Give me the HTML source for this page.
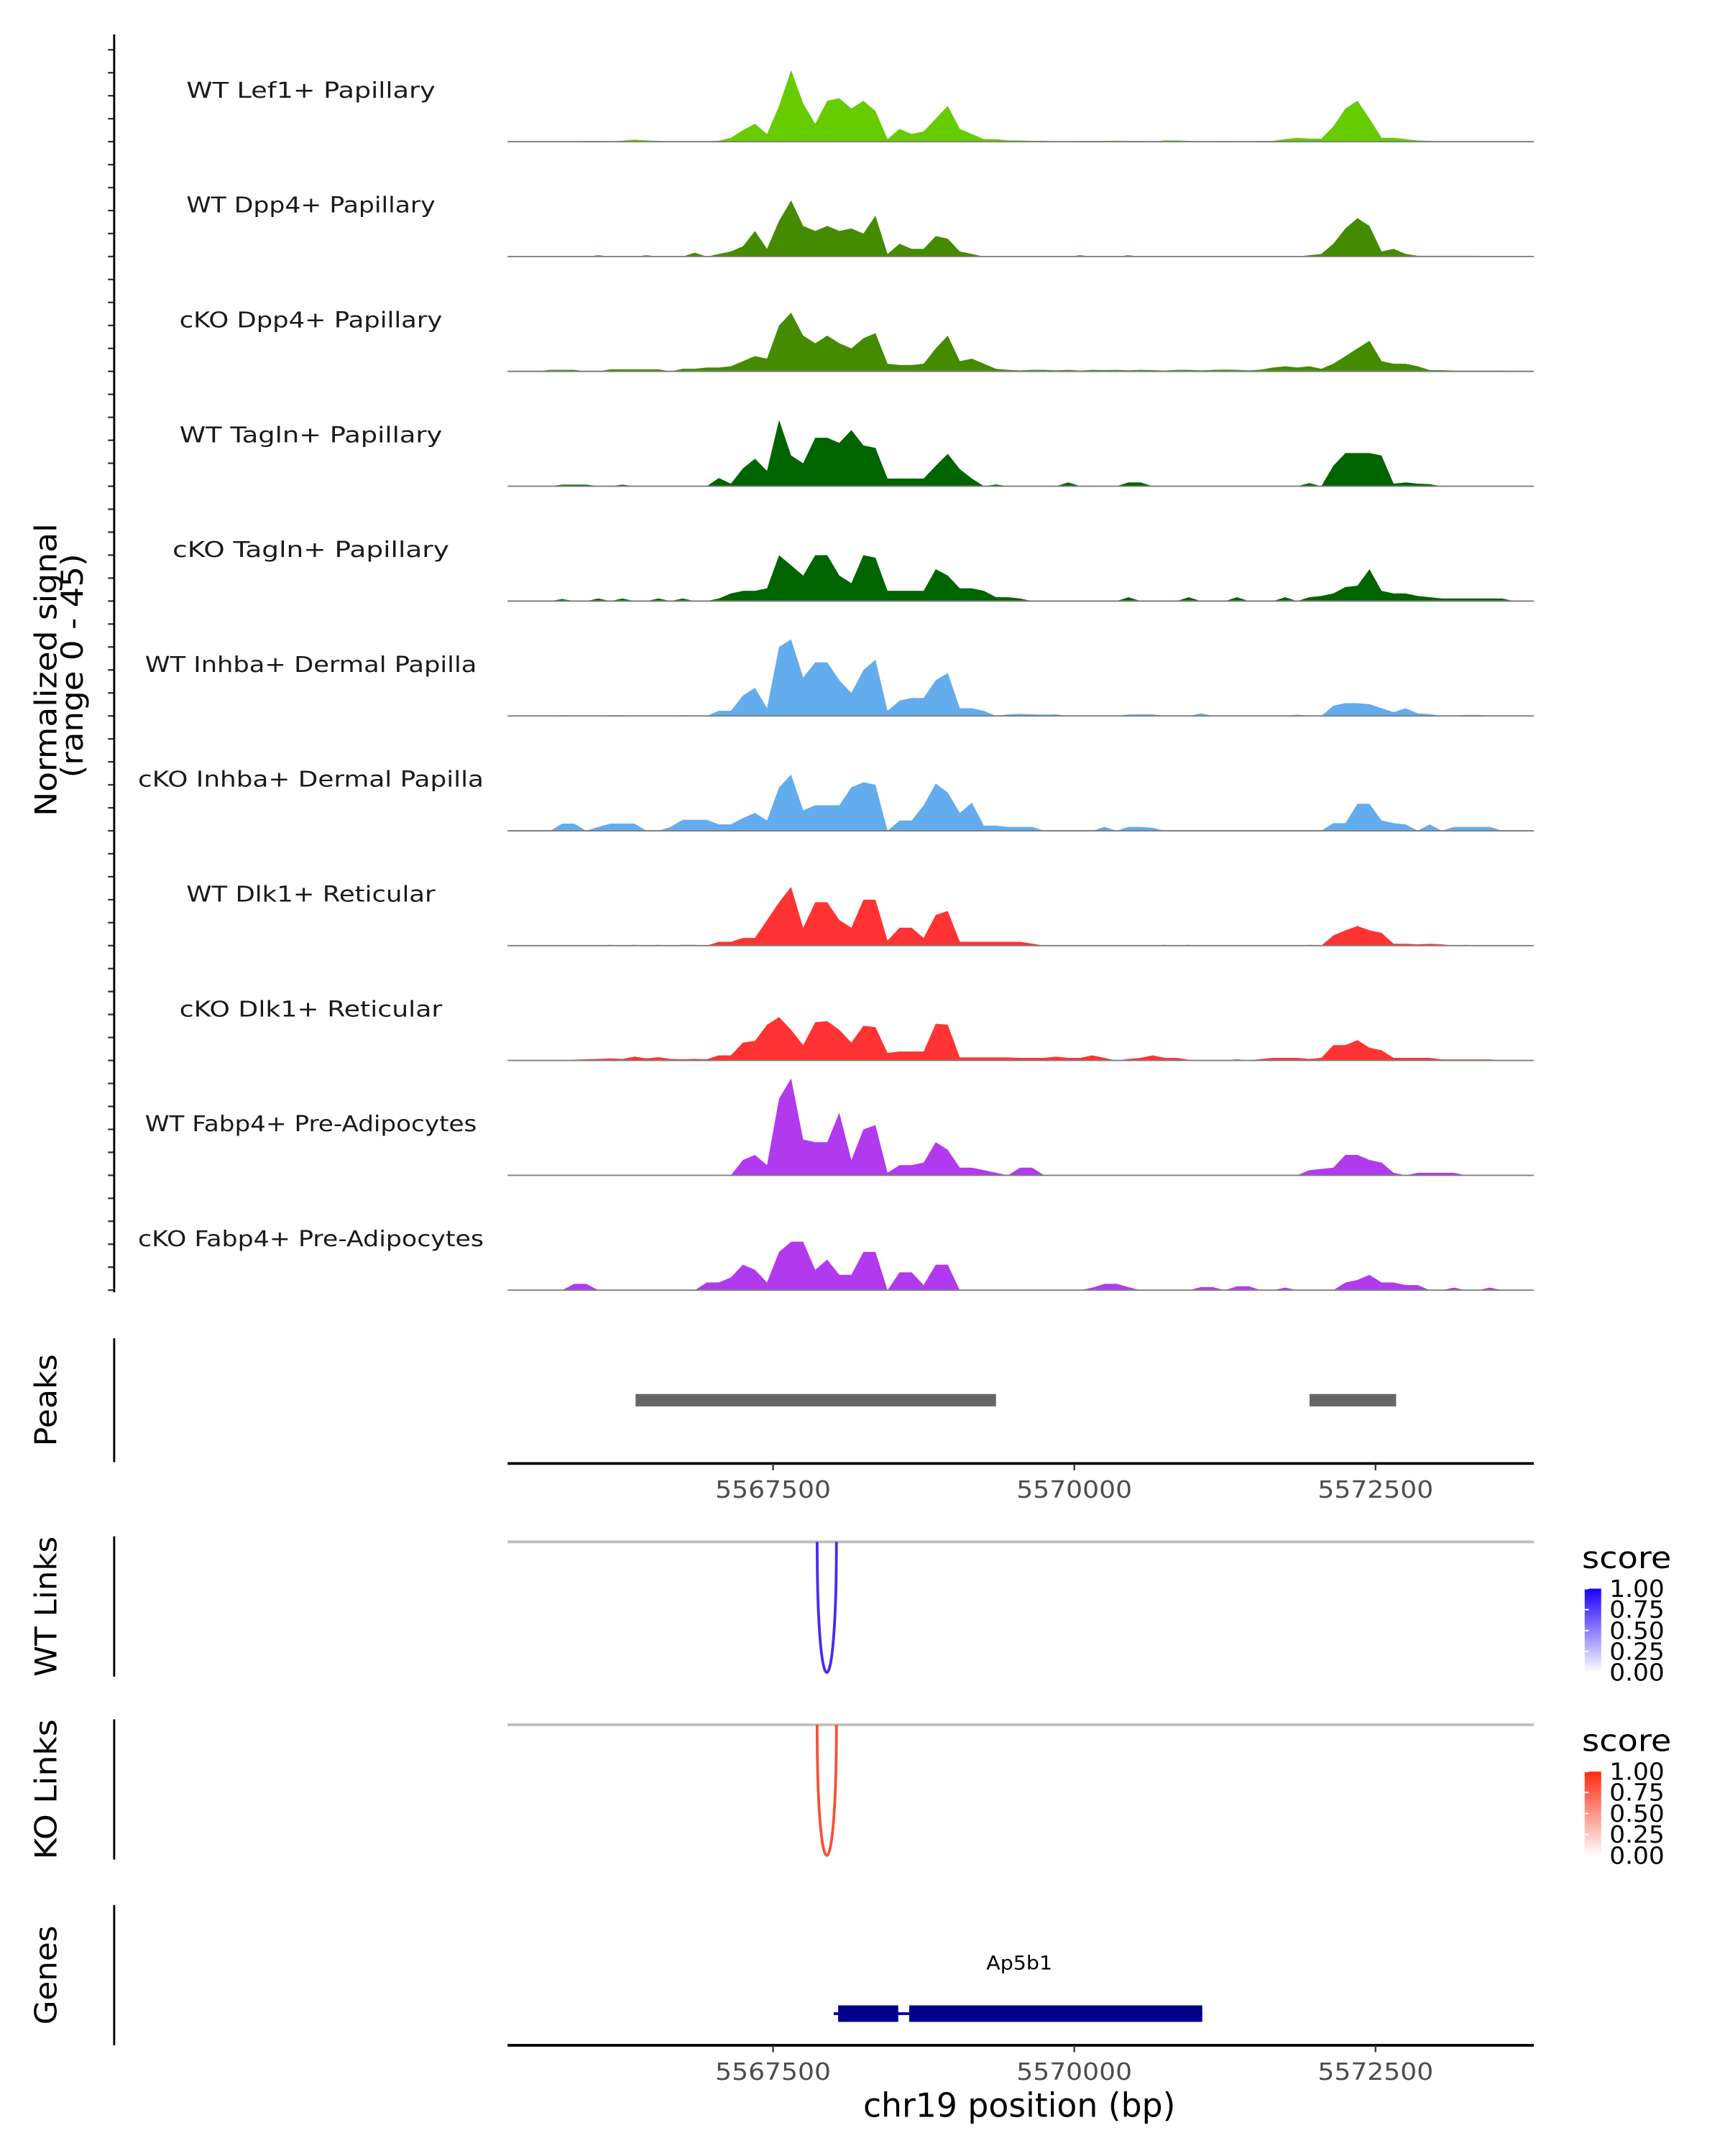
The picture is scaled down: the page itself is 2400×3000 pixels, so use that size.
<!DOCTYPE html>
<html><head><meta charset="utf-8"><style>
html,body{margin:0;padding:0;background:#fff;}
svg{display:block;}
text{font-family:"DejaVu Sans","Liberation Sans",sans-serif;}
</style></head><body>
<svg id="fig" xmlns="http://www.w3.org/2000/svg" width="2400" height="3000" viewBox="0 0 1254 1567.5" preserveAspectRatio="none">
<defs>
<clipPath id="panelClip"><rect x="369" y="0" width="746" height="1000"/></clipPath>
<linearGradient id="gradWT" x1="0" y1="1" x2="0" y2="0"><stop offset="0" stop-color="#ffffff"/><stop offset="1" stop-color="#1a00ff"/></linearGradient>
<linearGradient id="gradKO" x1="0" y1="1" x2="0" y2="0"><stop offset="0" stop-color="#ffffff"/><stop offset="1" stop-color="#ff2a10"/></linearGradient>
</defs>
<g id="tracks" clip-path="url(#panelClip)"></g>
<g id="overlay"></g>
</svg>
<script>
const binStart = 5565300;
const binSize = 100;
const trackNames = ["WT Lef1+ Papillary","WT Dpp4+ Papillary","cKO Dpp4+ Papillary","WT Tagln+ Papillary","cKO Tagln+ Papillary","WT Inhba+ Dermal Papilla","cKO Inhba+ Dermal Papilla","WT Dlk1+ Reticular","cKO Dlk1+ Reticular","WT Fabp4+ Pre-Adipocytes","cKO Fabp4+ Pre-Adipocytes"];
const trackColors = ["#66cc00","#458b00","#458b00","#006400","#006400","#63acee","#63acee","#ff3333","#ff3333","#b23aee","#b23aee"];
const wtLef1 = [0,0,0,0,0,0,0.3,0.3,0,0.4, 0.8,0.5,0.3,0,0,0,0,0.4,1.5,4.5, 7,3,14,28,15,7,16,17,13,16, 12,1,5,3,4,9,14,5,3,1, 1,0.5,0.5,0.3,0.4,0,0,0.3,0.3,0.3, 0.4,0.3,0.3,0,0.5,0.5,0.3,0,0,0.3, 0,0,0.3,0.3,1,1.5,1.2,1.2,6,13, 16,9,1.5,1.5,1,0.5,0.3,0,0,0, 0,0,0,0,0,0];
const wtDpp4 = [0,0,0,0,0,0,0,0.5,0,0, 0,0.5,0,0,0,1.5,0,1,2,4, 10,3,14,22,12,10,12,10,11,9, 16,1,5,3,3,8,7,2,1,0, 0,0,0,0,0,0,0,0.5,0,0, 0,0.5,0,0,0,0,0,0,0,0, 0,0,0,0,0,0,0.5,1,5,11, 15,12,2,3,1,0.3,0.3,0.3,0.3,0.3, 0.3,0,0,0,0,0];
const ckoDpp4 = [0,0,0,0.6,0.6,0.6,0,0,0.8,0.8, 0.8,0.8,0.8,0,1,1,1.5,1.5,2,4, 6,5,18,23,14,11,14,11,9,13, 15,3,2.5,2.5,3,9,14,4,5,3, 1,0.6,0.4,0.6,0.6,0.4,0.6,0.3,0.6,0.5, 0.6,0.4,0.6,0.5,0.3,0.6,0.6,0.4,0.6,0.7, 0.6,0.4,0.7,1.5,2,1.5,2,1,3,6, 9,12,4,3,3,2,0.5,0.5,0.3,0.3, 0.3,0.3,0.3,0,0,0];
const wtTagln = [0,0,0,0,0.6,0.6,0.6,0,0,0.6, 0,0,0,0,0,0,0,3.2,1,7, 10.8,6,26,12,9,19,19,17,22,16, 15,3,3,3,3,8,12.7,6.7,3,0, 0.7,0,0,0,0,0,1.5,0,0,0, 0,1.5,1.5,0,0,0,0,0,0,0, 0,0,0,0,0,0,1.2,0,8,13, 13,13,12,1,1.5,1,0.8,0,0,0, 0,0,0,0,0,0];
const ckoTagln = [0,0,0,0,0.8,0,0,1,0,1, 0,0,1,0,1,0,0,1,3,4, 4,5,18,14,10,18,18,10,7,18, 17,4,4,4,4,12.5,10,5,5,4, 1.5,1.5,1,0,0,0,0,0,0,0, 0,1.5,0,0,0,0,1.5,0,0,0, 1.5,0,0,0,1.5,0,1.5,2,3,5.5, 6,12.5,4,3,3,2,1.5,1,1,1, 1,1,1,0,0,0];
const wtInhba = [0,0,0,0,0.3,0,0,0,0.3,0.3, 0,0,0,0,0.3,0,0,2,2,8, 11,3,27,30,15,21,21,14,9,18, 22,2,6,7,7,14,16.8,3,3,2, 0,0.6,0.8,0.6,0.5,0.6,0,0,0,0, 0,0.6,0.6,0.6,0,0,0,1,0,0, 0,0,0,0,0,0.5,0,0,4,5, 5,4.6,3,1.5,3,1,0.7,0,0,0.4, 0.4,0,0,0,0,0];
const ckoInhba = [0,0,0,0,2.8,2.8,0,1.5,2.8,2.8, 2.8,0,0,1.5,4.3,4.3,4.3,2.5,2.5,5, 7,4,17,22,8,10,10,10,17,19, 18,0,4,4,10,18.5,15,7,11,2, 2,1.5,1.5,1.5,0,0,0,0,0,1.5, 0,1.5,1.5,1.2,0,0,0,0,0,0, 0,0,0,0,0,0,0,0,3,3, 10.6,10.6,4,3,2.5,0,2.5,0,1.5,1.5, 1.5,1.5,0,0,0,0];
const wtDlk1 = [0,0,0,0,0,0,0,0,0.3,0, 0.3,0,0.3,0,0.3,0.3,0,1.5,1.5,3, 3,10,17,23,7,17,17,10,7,18, 18,2,7,7,3,12,13.6,1.5,1.5,1.5, 1.5,1.5,1.5,0.8,0,0,0,0,0,0, 0,0,0,0,0.3,0,0.3,0,0,0, 0,0,0,0,0,0,0.3,0,4,6, 7.7,6,5,0.7,0.7,0.5,0.7,0.5,0,0.3, 0,0,0,0,0,0];
const ckoDlk1 = [0,0,0,0,0,0.3,0.5,0.6,0.8,0.6, 1.5,0.8,1.3,0.6,0.5,0.6,0.5,2,2,7, 7.7,14,17,12,6,15,15.4,12,7,13.6, 13,3,3.5,3.5,3.5,14.4,14,1.2,1.2,1.2, 1.2,1.2,1,1,1,1.5,1,1,2,1, 0,0.6,1,2,1,1,0.3,0,0,0, 0.5,0,0.6,1,1,1,0.6,1,6,6, 8,5,4,1,1,1,1,0.4,0.4,0.4, 0.4,0.4,0,0,0,0];
const wtFabp4 = [0,0,0,0,0,0,0,0,0,0, 0,0,0,0,0,0,0,0,0,6, 8,4,30,38,14,13,13,24.5,6,18, 19.7,1,4,4,5,13,10,3,3,2, 1,0,3,3,0,0,0,0,0,0, 0,0,0,0,0,0,0,0,0,0, 0,0,0,0,0,0,2,2.5,3,8, 8,6,5,1,0,1,1,1,1,0, 0,0,0,0,0,0];
const ckoFabp4 = [0,0,0,0,0,2.5,2.5,0,0,0, 0,0,0,0,0,0,3,3,5,10, 8,3,15,19,19,8,12,6,6,15, 15,0,7,7,2,10,10,0,0,0, 0,0,0,0,0,0,0,0,1,2.5, 2.5,1.2,0,0,0,0,0,1.2,1.2,0, 1.5,1.5,0,0,1,0,0,0,0,3, 4,6,3,3,2,2,0,0,1,0, 0,1,0,0,0,0];
const trackValues = [wtLef1,wtDpp4,ckoDpp4,wtTagln,ckoTagln,wtInhba,ckoInhba,wtDlk1,ckoDlk1,wtFabp4,ckoFabp4];
const signalMax = 45;
const axisTickValues = [0,9,18,27,36];
const xTickValues = [5567500,5570000,5572500];
const xTickLabels = ["5567500","5570000","5572500"];
const peakStarts = [5566359,5571952];
const peakEnds = [5569350,5572671];
const wtLinkStart = [5567866];
const wtLinkEnd = [5568026];
const wtLinkScore = [0.9];
const koLinkStart = [5567866];
const koLinkEnd = [5568026];
const koLinkScore = [0.9];
const legendTicks = [0,0.25,0.5,0.75,1];
const legendLabels = ["0.00","0.25","0.50","0.75","1.00"];
const geneName = "Ap5b1";
const geneStart = 5568003;
const geneEnd = 5571062;
const exonStarts = [5568040,5568630];
const exonEnds = [5568539,5571062];

const NS = "http://www.w3.org/2000/svg";
const xMinBp = 5565297, bpPerPx = 11.416, panelL = 369, panelR = 1115;
function xScale(bp){ return panelL + (bp - xMinBp)/bpPerPx; }
const trackH = 83.5, firstBase = 103;
function baseY(t){ return firstBase + t*trackH; }
function yScale(t,v){ return baseY(t) - v*trackH/signalMax; }
function mk(tag, attrs, parent){ const e=document.createElementNS(NS,tag); for(const k in attrs) e.setAttribute(k,attrs[k]); parent.appendChild(e); return e; }
const tracks = document.getElementById('tracks');
const ov = document.getElementById('overlay');

trackValues.forEach((vals,t)=>{
  const b = baseY(t);
  let pts = [[xScale(binStart), b]];
  vals.forEach((v,i)=>{ pts.push([xScale(binStart+binSize*i+binSize/2), yScale(t,v)]); });
  pts.push([xScale(binStart+binSize*vals.length), b]);
  const area = mk('polygon',{points:pts.map(p=>p[0].toFixed(2)+','+p[1].toFixed(2)).join(' '),fill:trackColors[t]},tracks);
  
  
  const bl = mk('line',{x1:panelL,x2:panelR,y1:b,y2:b,stroke:'#7f7f7f','stroke-width':1},ov);
  
  
  const name = trackNames[t];
  const lab = mk('text',{x:226,y:b-32,'text-anchor':'middle','font-size':16,fill:'#1a1a1a',textLength:(name.length*10.05).toFixed(1),lengthAdjust:'spacingAndGlyphs'},ov);
  lab.textContent = name;
  
  
  axisTickValues.forEach(tv=>{
    const y = yScale(t,tv);
    const tk = mk('line',{x1:78.5,x2:83,y1:y,y2:y,stroke:'#333','stroke-width':1.2},ov);
    
    
  });
});
function vline(y1,y2,name){ const l=mk('line',{x1:83,x2:83,y1:y1,y2:y2,stroke:'#000','stroke-width':1.5},ov);   }
vline(25, baseY(10)+1.5, 'signal-y-axis');
function rotText(x,y,str,size,len,name){ const e=mk('text',{x:x,y:y,'text-anchor':'middle','font-size':size,fill:'#000',transform:`rotate(-90 ${x} ${y})`,textLength:len,lengthAdjust:'spacingAndGlyphs'},ov); e.textContent=str;   return e;}
rotText(41,487,'Normalized signal',22,213,'y-axis-title');
rotText(60,484,'(range 0 - 45)',22,163,'y-axis-range');

// Peaks
vline(973,1063,'peaks-axis');
rotText(41,1018,'Peaks',22,67,'peaks-title');
peakStarts.forEach((s,i)=>{
  const r = mk('rect',{x:xScale(s),y:1013.5,width:xScale(peakEnds[i])-xScale(s),height:9,fill:'#666666'},ov);
  
  
});
function xAxis(y,name){
  const l = mk('line',{x1:panelL,x2:panelR,y1:y,y2:y,stroke:'#000','stroke-width':2},ov);
  
  
  xTickValues.forEach((v,i)=>{
    const x = xScale(v);
    const tk = mk('line',{x1:x,x2:x,y1:y,y2:y+5,stroke:'#333','stroke-width':1.2},ov);
    
    
    const tl = mk('text',{x:x,y:y+25,'text-anchor':'middle','font-size':17,fill:'#4d4d4d',textLength:84,lengthAdjust:'spacingAndGlyphs'},ov);
    tl.textContent = xTickLabels[i];
    
    
  });
}
xAxis(1064,'peaks-x-axis');

// Links
function linkTrack(top, label, starts, ends, scores, color, grad, name){
  vline(top-4, top+98, name+'-axis');
  rotText(41, top+47, label, 22, 102, name+'-title');
  const gl = mk('line',{x1:panelL,x2:panelR,y1:top,y2:top,stroke:'#bebebe','stroke-width':2},ov);
  
  
  starts.forEach((s,i)=>{
    const x1=xScale(s), x2=xScale(ends[i]); const yb = top + 95/0.75;
    const p = mk('path',{d:`M${x1},${top} C${x1},${yb} ${x2},${yb} ${x2},${top}`,fill:'none',stroke:color,'stroke-width':2,opacity:0.4+0.6*scores[i]},ov);
    
    
  });
  const lt = mk('text',{x:1150,y:top+19,'font-size':22,fill:'#000',textLength:65,lengthAdjust:'spacingAndGlyphs'},ov);
  lt.textContent='score';
  
  
  const barTop = top+34, barH = 61;
  const cb = mk('rect',{x:1152,y:barTop,width:12,height:barH,fill:`url(#${grad})`},ov);
  
  
  legendTicks.forEach((v,i)=>{
    const y = barTop + barH*(1-v);
    const tk = mk('line',{x1:1152,x2:1155,y1:y,y2:y,stroke:'#fff','stroke-width':1},ov);
    
    
    const tl = mk('text',{x:1170,y:y+6,'font-size':17,fill:'#000',textLength:40,lengthAdjust:'spacingAndGlyphs'},ov);
    tl.textContent = legendLabels[i];
    
    
  });
}
linkTrack(1121,'WT Links',wtLinkStart,wtLinkEnd,wtLinkScore,'#3a1ff0','gradWT','wt-links');
linkTrack(1254,'KO Links',koLinkStart,koLinkEnd,koLinkScore,'#f4462e','gradKO','ko-links');

// Genes
vline(1385,1487,'genes-axis');
rotText(41,1436,'Genes',22,72,'genes-title');
const gn = mk('text',{x:741,y:1432,'text-anchor':'middle','font-size':14,fill:'#000',textLength:48,lengthAdjust:'spacingAndGlyphs'},ov);
gn.textContent = geneName;


const gline = mk('line',{x1:xScale(geneStart),x2:xScale(geneEnd),y1:1464,y2:1464,stroke:'#00008b','stroke-width':2},ov);


exonStarts.forEach((s,i)=>{
  const r = mk('rect',{x:xScale(s),y:1458,width:xScale(exonEnds[i])-xScale(s),height:12,fill:'#00008b'},ov);
  
  
});
xAxis(1487,'genes-x-axis');
const xt = mk('text',{x:741,y:1539,'text-anchor':'middle','font-size':24,fill:'#000',textLength:227,lengthAdjust:'spacingAndGlyphs'},ov);
xt.textContent = 'chr19 position (bp)';


</script>
</body></html>
